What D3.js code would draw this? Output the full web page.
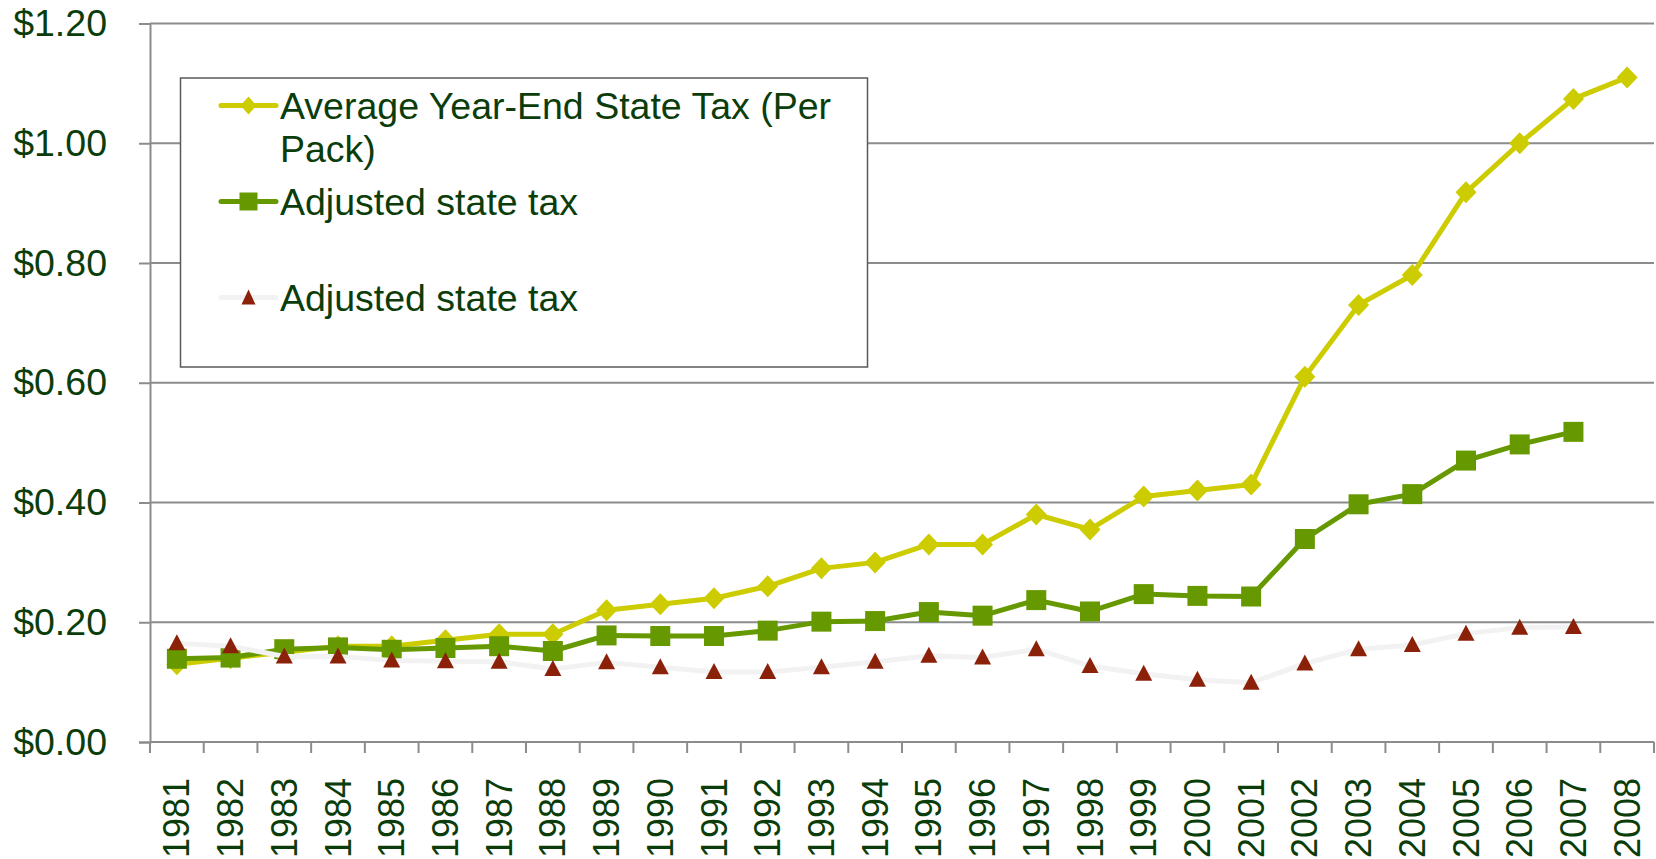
<!DOCTYPE html>
<html lang="en">

<head>
    <meta charset="utf-8">
    <script src="https://d3js.org/d3.v7.min.js"></script>
    <style>
        body { margin: 0; background: white; }
        text { font-family: "Liberation Sans", Arial, sans-serif; fill: #0b3d0b; }
    </style>
</head>

<body>
    <div id="chart"></div>

    <script>
        // data
        const years = ["1981", "1982", "1983", "1984", "1985", "1986", "1987", "1988", "1989", "1990",
            "1991", "1992", "1993", "1994", "1995", "1996", "1997", "1998", "1999", "2000",
            "2001", "2002", "2003", "2004", "2005", "2006", "2007", "2008"];

        const avgTax = [0.13, 0.14, 0.15, 0.16, 0.16, 0.17, 0.18, 0.18, 0.22, 0.23,
            0.24, 0.26, 0.29, 0.30, 0.33, 0.33, 0.38, 0.355, 0.41, 0.42,
            0.43, 0.61, 0.73, 0.78, 0.918, 1.00, 1.074, 1.11];

        const adjTax = [0.139, 0.141, 0.155, 0.158, 0.154, 0.157, 0.16, 0.152, 0.178, 0.177,
            0.177, 0.186, 0.201, 0.202, 0.217, 0.211, 0.237, 0.218, 0.247, 0.244,
            0.243, 0.339, 0.397, 0.414, 0.47, 0.497, 0.518, null];

        const adjTax2 = [0.165, 0.16, 0.143, 0.143, 0.136, 0.135, 0.134, 0.122, 0.133, 0.125,
            0.117, 0.117, 0.125, 0.134, 0.144, 0.141, 0.155, 0.127, 0.114, 0.104,
            0.099, 0.131, 0.155, 0.162, 0.181, 0.191, 0.192, null];

        const yTicks = [0, 0.2, 0.4, 0.6, 0.8, 1.0, 1.2];

        const seriesNames = ["Average Year-End State Tax (Per Pack)", "Adjusted state tax", "Adjusted state tax"];

        const W = 1656, H = 859;
        const margin = { top: 23.5, right: 2, bottom: 117, left: 150 };
        const fontSize = "37.5px";

        const svg = d3.select("#chart")
            .append("svg")
            .attr("width", W)
            .attr("height", H);

        const x = d3.scaleBand()
            .domain(years)
            .range([margin.left, W - margin.right])
            .padding(0);

        const y = d3.scaleLinear()
            .domain([0, 1.2])
            .range([H - margin.bottom, margin.top]);

        const gridColor = "#8a8d8b";

        // gridlines
        svg.append("g")
            .selectAll("line")
            .data(yTicks.filter(d => d > 0))
            .join("line")
            .attr("x1", margin.left)
            .attr("x2", W - margin.right)
            .attr("y1", d => y(d))
            .attr("y2", d => y(d))
            .attr("stroke", gridColor)
            .attr("stroke-width", 2);

        // Y axis
        const yAxis = svg.append("g")
            .attr("transform", `translate(${margin.left},0)`)
            .call(d3.axisLeft(y).tickValues(yTicks).tickSize(11).tickPadding(32)
                .tickFormat(d => "$" + d3.format(".2f")(d)));
        yAxis.selectAll("line").attr("stroke", gridColor).attr("stroke-width", 2);
        yAxis.select(".domain").attr("stroke", gridColor).attr("stroke-width", 2);
        yAxis.selectAll("text")
            .style("font-size", fontSize)
            .attr("fill", "#0b3d0b")
            .style("font-family", "'Liberation Sans', Arial, sans-serif");

        // X axis with ticks at category boundaries
        const xAxis = svg.append("g")
            .attr("transform", `translate(0,${y(0)})`);
        xAxis.append("line")
            .attr("x1", margin.left)
            .attr("x2", W - margin.right)
            .attr("stroke", gridColor)
            .attr("stroke-width", 2);
        xAxis.selectAll(".tick")
            .data(years.concat(["end"]))
            .join("line")
            .attr("x1", (d, i) => i < years.length ? x(d) : x(years[years.length - 1]) + x.bandwidth())
            .attr("x2", (d, i) => i < years.length ? x(d) : x(years[years.length - 1]) + x.bandwidth())
            .attr("y1", 0)
            .attr("y2", 11)
            .attr("stroke", gridColor)
            .attr("stroke-width", 2);
        xAxis.selectAll("text")
            .data(years)
            .join("text")
            .attr("transform", d => `translate(${x(d) + x.bandwidth() / 2},36) rotate(-90)`)
            .attr("text-anchor", "end")
            .attr("dy", "0.35em")
            .style("font-size", "36px")
            .text(d => d);

        const cx = d => x(d) + x.bandwidth() / 2;

        const line = d3.line()
            .defined(d => d.v != null)
            .x(d => cx(d.year))
            .y(d => y(d.v));

        const toPts = arr => years.map((yr, i) => ({ year: yr, v: arr[i] }));

        const diamond = "M0,-11L10.5,0L0,11L-10.5,0Z";
        const square = "M-10,-10L10,-10L10,10L-10,10Z";
        const triangle = "M0,-9L8.5,7L-8.5,7Z";

        const series = [
            { data: toPts(avgTax), lineColor: "#cccc00", marker: diamond, markerColor: "#cccc00" },
            { data: toPts(adjTax), lineColor: "#669900", marker: square, markerColor: "#669900" },
            { data: toPts(adjTax2), lineColor: "#f2f2f2", marker: triangle, markerColor: "#8b2108" }
        ];

        series.forEach(s => {
            const g = svg.append("g");
            g.append("path")
                .datum(s.data)
                .attr("fill", "none")
                .attr("stroke", s.lineColor)
                .attr("stroke-width", 5)
                .attr("stroke-linejoin", "round")
                .attr("d", line);
            g.selectAll("path.m")
                .data(s.data.filter(d => d.v != null))
                .join("path")
                .attr("class", "m")
                .attr("d", s.marker)
                .attr("transform", d => `translate(${cx(d.year)},${y(d.v)})`)
                .attr("fill", s.markerColor);
        });

        // Legend
        const legend = svg.append("g");
        legend.append("rect")
            .attr("x", 180.5)
            .attr("y", 78)
            .attr("width", 687)
            .attr("height", 289)
            .attr("fill", "white")
            .attr("stroke", "#595959")
            .attr("stroke-width", 1.5);

        const legendRows = [105.5, 201.5, 297.5];
        const legendMarkers = [
            "M0,-9L8,0L0,9L-8,0Z",
            "M-9,-9L9,-9L9,9L-9,9Z",
            "M0,-8L7,7L-7,7Z"
        ];

        series.forEach((s, i) => {
            const ly = legendRows[i];
            legend.append("line")
                .attr("x1", 221)
                .attr("x2", 276)
                .attr("y1", ly)
                .attr("y2", ly)
                .attr("stroke", s.lineColor)
                .attr("stroke-width", 5)
                .attr("stroke-linecap", "round");
            legend.append("path")
                .attr("d", legendMarkers[i])
                .attr("transform", `translate(248.5,${ly})`)
                .attr("fill", s.markerColor);
        });

        // wrapped first label
        const t0 = legend.append("text")
            .attr("x", 280)
            .attr("y", legendRows[0])
            .attr("dy", "0.35em")
            .style("font-size", fontSize);
        t0.append("tspan").attr("x", 280).text("Average Year-End State Tax (Per");
        t0.append("tspan").attr("x", 280).attr("dy", 43.5).text("Pack)");

        legend.selectAll("text.lbl")
            .data(seriesNames.slice(1))
            .join("text")
            .attr("class", "lbl")
            .attr("x", 280)
            .attr("y", (d, i) => legendRows[i + 1])
            .attr("dy", "0.35em")
            .style("font-size", fontSize)
            .text(d => d);
    </script>

</body>

</html>
